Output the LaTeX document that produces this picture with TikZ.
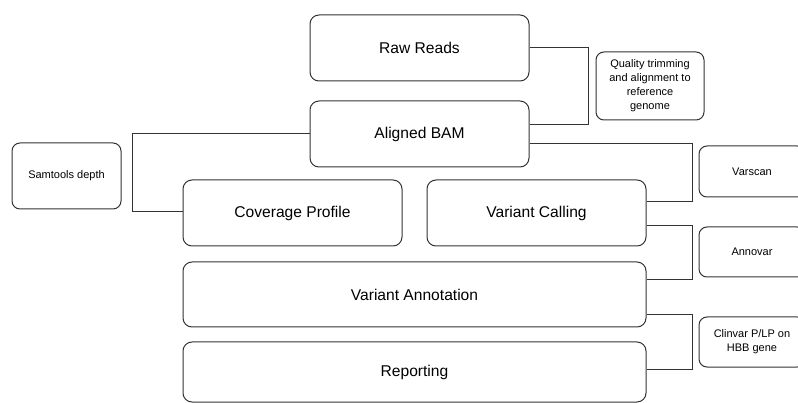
\documentclass[tikz,border=0pt]{standalone}
\usepackage{fontspec}
\setmainfont{Liberation Sans}
\usetikzlibrary{calc}
\begin{document}
\begin{tikzpicture}[x=1pt,y=-1pt,
  big/.style={draw=black!80,line width=1pt,rounded corners=9pt,font=\fontsize{15.6}{18}\selectfont,inner sep=0pt,anchor=center},
  small/.style={draw=black!80,line width=1pt,rounded corners=8pt,font=\fontsize{11}{14}\selectfont,inner sep=0pt,align=center,anchor=center},
  conn/.style={draw=black!80,line width=1pt}]
\useasboundingbox (0,0) rectangle (798,403);
\clip (0,0) rectangle (798,403);
% main boxes
\node[big,minimum width=219pt,minimum height=66pt] (rr) at (419.5,48) {Raw Reads};
\node[big,minimum width=219pt,minimum height=66pt] (ab) at (419.5,134) {Aligned BAM};
\node[big,minimum width=219pt,minimum height=66pt] (cp) at (292.5,213) {Coverage Profile};
\node[big,minimum width=219pt,minimum height=66pt] (vc) at (536.5,213) {Variant Calling};
\node[big,minimum width=463pt,minimum height=65pt] (va) at (414.5,294.5) {Variant Annotation};
\node[big,minimum width=463pt,minimum height=60pt] (rp) at (414.5,372) {Reporting};
% side boxes
\node[small,minimum width=109pt,minimum height=66pt] (sd) at (66.5,176) {Samtools depth};
\node[small,minimum width=108pt,minimum height=68pt] (qt) at (650,86) {Quality trimming\\and alignment to\\reference\\genome};
\node[small,minimum width=106pt,minimum height=51pt] (vs) at (752,171.5) {Varscan};
\node[small,minimum width=106pt,minimum height=50pt] (an) at (752,252) {Annovar};
\node[small,minimum width=106pt,minimum height=50pt] (cl) at (752,342) {Clinvar P/LP on\\HBB gene};
% connectors
\coordinate (b1) at (588,0);
\coordinate (b2) at (132,0);
\coordinate (b3) at (692,0);
\draw[conn] (rr.east) -- (rr.east -| b1) -- ($(ab.east -| b1)+(0,-9)$) -- ($(ab.east)+(0,-9)$);
\draw[conn] (ab.west) -- (ab.west -| b2) -- ($(cp.west -| b2)+(0,-1)$) -- ($(cp.west)+(0,-1)$);
\draw[conn] ($(ab.east)+(0,10)$) -- ($(ab.east -| b3)+(0,10)$) -- ($(vc.east -| b3)+(0,-11)$) -- ($(vc.east)+(0,-11)$);
\draw[conn] ($(vc.east)+(0,13)$) -- ($(vc.east -| b3)+(0,13)$) -- ($(va.east -| b3)+(0,-14.5)$) -- ($(va.east)+(0,-14.5)$);
\draw[conn] ($(va.east)+(0,20.5)$) -- ($(va.east -| b3)+(0,20.5)$) -- ($(rp.east -| b3)+(0,-3)$) -- ($(rp.east)+(0,-3)$);
\end{tikzpicture}
\end{document}
